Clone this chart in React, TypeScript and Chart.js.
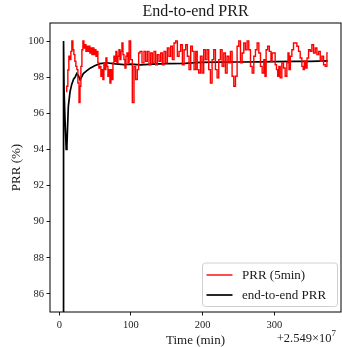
import React, { useEffect, useRef } from "react";
import { Chart, registerables } from "chart.js";

Chart.register(...registerables);

const TITLE = "End-to-end PRR";
const X_LABEL = "Time (min)";
const Y_LABEL = "PRR (%)";
const X_OFFSET_TEXT = "+2.549×10";
const X_OFFSET_EXP = "7";
const SERIES_NAMES = ["PRR (5min)", "end-to-end PRR"];

const X_TICKS = [0, 100, 200, 300];
const Y_TICKS = [86, 88, 90, 92, 94, 96, 98, 100];
const X_MIN = -13;
const X_MAX = 393;
const Y_MIN = 85;
const Y_MAX = 101;

const PRR_TIME = [
  9.5, 11.2, 12.6, 14.0, 15.4, 16.8, 18.2, 19.6, 21.0, 22.4, 23.8, 25.2, 26.6, 28.4, 29.4, 30.8,
  32.2, 33.6, 35.0, 36.4, 37.8, 39.2, 40.6, 42.0, 43.4, 44.8, 46.2, 47.6, 49.0, 50.4, 51.8, 53.1,
  54.5, 55.9, 57.3, 58.7, 60.1, 61.5, 62.9, 64.3, 65.7, 67.1, 68.5, 69.9, 71.3, 72.7, 74.1, 75.5,
  76.9, 78.3, 79.7, 81.1, 82.5, 83.9, 85.3, 86.7, 88.1, 89.5, 90.9, 92.3, 93.7, 95.1, 96.5,
  98.3, 100.7, 103.0, 105.3, 107.6, 110.0, 111.4, 113.7, 117.0, 119.3, 121.6, 124.0, 126.3, 128.6,
  130.9, 133.3, 135.6, 137.9, 140.3, 142.6, 144.9, 147.2, 149.6, 151.9, 154.2, 156.6, 158.9, 161.2,
  163.5, 165.9, 168.2, 170.5, 172.9, 175.2, 177.5, 179.8, 182.2, 184.5, 186.8, 189.2, 191.5,
  193.3, 195.7, 198.0, 200.3, 202.6, 205.0, 207.3, 209.6, 212.0, 214.3, 216.6, 219.0, 221.3, 223.6,
  225.9, 228.3, 230.6, 232.9, 235.3, 237.6, 239.9, 242.2, 244.6, 246.9, 249.2, 251.6, 253.9, 256.2,
  258.5, 260.9, 263.2, 265.5, 267.9, 270.2, 272.5, 274.8, 277.2, 279.5, 281.8, 284.2, 286.5,
  287.4, 289.7, 291.6, 294.4, 296.2, 297.6, 300.0, 302.3, 303.7, 305.6, 307.0, 309.3, 311.6, 313.9,
  316.3, 318.6, 319.5, 321.4, 323.3, 325.6, 327.9, 330.3, 332.6, 334.9, 337.2, 339.6, 341.0, 342.8,
  344.7, 346.6, 348.9, 351.2, 353.5, 355.9, 358.2, 360.5, 362.9, 365.2, 367.5, 369.8, 372.2, 374.5,
];
const PRR_VALUES = [
  97.2, 97.5, 98.4, 99.16, 98.97, 99.43, 100, 99.52, 99.25, 98.88, 98.6, 98.42, 97.68, 96.6, 97.5, 98.6,
  99.52, 100, 99.62, 99.8, 99.43, 99.71, 99.43, 99.71, 99.34, 99.62, 99.25, 99.62, 99.25, 99.52, 99.16, 99.43,
  98.79, 98.51, 98.6, 98.05, 98.42, 97.87, 98.79, 98.42, 99.06, 98.6, 98.05, 98.42, 97.68, 98.42, 97.87, 98.79,
  99.16, 98.88, 99.43, 98.79, 99.16, 99.52, 98.97, 99.43, 99.89, 99.25, 98.97, 98.51, 99.16, 99.34, 98.79,
  100, 98.97, 96.6, 98.6, 97.87, 98.42, 99.34, 99.43, 98.79, 99.43, 98.88, 99.43, 98.69, 99.34,
  98.79, 99.43, 98.69, 99.25, 98.88, 99.34, 98.69, 99.43, 98.79, 99.62, 99.16, 99.71, 98.97, 99.89,
  100, 99.16, 99.43, 99.8, 98.69, 99.52, 99.8, 99.16, 98.42, 99.71, 99.43, 98.42, 99.43,
  98.42, 98.23, 99.16, 98.23, 99.52, 98.97, 99.52, 98.42, 97.68, 98.97, 99.52, 98.42, 97.96, 98.97,
  99.52, 98.6, 99.34, 98.23, 99.16, 98.79, 99.43, 98.05, 97.5, 98.05, 99.71, 100, 98.79, 99.34,
  99.89, 99.52, 100, 99.52, 98.6, 98.23, 99.16, 99.52, 99.89, 99.34, 98.6, 98.23, 98.97,
  98.05, 99.52, 99.71, 99.43, 98.88, 99.34, 99.34, 98.69, 98.42, 98.05, 98.6, 97.96, 98.79, 98.51,
  98.05, 98.79, 99.34, 98.42, 99.16, 99.52, 99.89, 99.89, 99.71, 99.43, 99.06, 98.6, 98.42, 98.88,
  98.51, 99.06, 99.52, 99.43, 99.8, 99.34, 99.62, 99.25, 99.43, 98.88, 99.16, 98.69, 98.6, 99.34,
];

const E2E_TIME = [
  5.5, 5.9, 6.6, 8.0, 9.6, 10.6, 12.6, 15.0, 17.3, 20.0, 22.0, 24.3, 26.5, 29.0, 31.0, 33.5,
  38.0, 43.0, 50.0, 57.0, 66.0, 75.0, 90.0, 100.0, 113.0, 130.0, 150.0, 175.0, 197.0, 220.0,
  250.0, 280.0, 300.0, 330.0, 350.0, 374.5,
];
const E2E_VALUES = [
  50, 100, 97.3, 95.6, 94.0, 94.2, 96.4, 97.2, 97.6, 97.9, 98.0, 98.2, 98.1, 97.85, 98.0, 98.2,
  98.35, 98.5, 98.65, 98.75, 98.8, 98.75, 98.7, 98.72, 98.68, 98.72, 98.75, 98.77, 98.82, 98.83,
  98.84, 98.85, 98.86, 98.87, 98.88, 98.9,
];

const SERIES_COLORS = ["#ff0000", "#000000"];
const FONT = "'Liberation Serif', 'Times New Roman', serif";

const overlayPlugin = {
  id: "mplOverlay",
  afterDraw(chart: any) {
    const { ctx, chartArea } = chart;
    const { left, right, top, bottom } = chartArea;
    ctx.save();
    ctx.strokeStyle = "#000";
    ctx.lineWidth = 1;
    ctx.strokeRect(left, top, right - left, bottom - top);

    ctx.fillStyle = "#1a1a1a";
    ctx.font = `16px ${FONT}`;
    ctx.textAlign = "center";
    ctx.textBaseline = "middle";
    ctx.fillText(TITLE, (left + right) / 2, 12);

    ctx.font = `13px ${FONT}`;
    ctx.fillText(X_LABEL, (left + right) / 2, 341);

    ctx.save();
    ctx.translate(17, (top + bottom) / 2);
    ctx.rotate(-Math.PI / 2);
    ctx.fillText(Y_LABEL, 0, 0);
    ctx.restore();

    ctx.font = `9px ${FONT}`;
    const expW = ctx.measureText(X_OFFSET_EXP).width;
    const rx = 336;
    ctx.textAlign = "right";
    ctx.fillText(X_OFFSET_EXP, rx, 334);
    ctx.font = `12.5px ${FONT}`;
    ctx.fillText(X_OFFSET_TEXT, rx - expW, 338.5);

    const bx = 202.5, by = 263, bw = 135, bh = 43.5, r = 3;
    ctx.beginPath();
    ctx.moveTo(bx + r, by);
    ctx.lineTo(bx + bw - r, by);
    ctx.quadraticCurveTo(bx + bw, by, bx + bw, by + r);
    ctx.lineTo(bx + bw, by + bh - r);
    ctx.quadraticCurveTo(bx + bw, by + bh, bx + bw - r, by + bh);
    ctx.lineTo(bx + r, by + bh);
    ctx.quadraticCurveTo(bx, by + bh, bx, by + bh - r);
    ctx.lineTo(bx, by + r);
    ctx.quadraticCurveTo(bx, by, bx + r, by);
    ctx.closePath();
    ctx.fillStyle = "rgba(255,255,255,0.85)";
    ctx.fill();
    ctx.strokeStyle = "#d0d0d0";
    ctx.lineWidth = 1;
    ctx.stroke();

    const rows = [275, 295];
    ctx.font = `13px ${FONT}`;
    ctx.textAlign = "left";
    ctx.textBaseline = "middle";
    SERIES_NAMES.forEach((name, i) => {
      ctx.strokeStyle = SERIES_COLORS[i];
      ctx.lineWidth = i === 0 ? 1.4 : 1.7;
      ctx.beginPath();
      ctx.moveTo(206.5, rows[i]);
      ctx.lineTo(232.5, rows[i]);
      ctx.stroke();
      ctx.fillStyle = "#1a1a1a";
      ctx.fillText(name, 242, rows[i] + 0.5);
    });
    ctx.restore();
  },
};

export default function App() {
  const canvasRef = useRef<HTMLCanvasElement | null>(null);

  useEffect(() => {
    if (!canvasRef.current) return;
    const prrData = PRR_TIME.map((t, i) => ({ x: t, y: PRR_VALUES[i] }));
    const e2eData = E2E_TIME.map((t, i) => ({ x: t, y: E2E_VALUES[i] }));
    const chart = new Chart(canvasRef.current, {
      type: "line",
      data: {
        datasets: [
          {
            label: SERIES_NAMES[0],
            data: prrData,
            borderColor: SERIES_COLORS[0],
            borderWidth: 1.4,
            pointRadius: 0,
            stepped: "middle",
          },
          {
            label: SERIES_NAMES[1],
            data: e2eData,
            borderColor: SERIES_COLORS[1],
            borderWidth: 1.7,
            pointRadius: 0,
            tension: 0,
          },
        ],
      },
      options: {
        responsive: false,
        animation: false,
        devicePixelRatio: 1,
        layout: { padding: { top: 23, right: 1, left: 0, bottom: 0 } },
        plugins: {
          legend: { display: false },
          tooltip: { enabled: false },
          title: { display: false },
        },
        scales: {
          x: {
            type: "linear",
            min: X_MIN,
            max: X_MAX,
            afterBuildTicks: (s: any) => {
              s.ticks = X_TICKS.map((v) => ({ value: v }));
            },
            afterFit: (s: any) => {
              s.height = 35;
            },
            grid: { drawOnChartArea: false, drawTicks: true, tickLength: 3.5, color: "#000", lineWidth: 0.9 },
            border: { display: false },
            ticks: {
              color: "#1a1a1a",
              font: { family: FONT, size: 10.5 },
              padding: 3,
              maxRotation: 0,
              autoSkip: false,
            },
          },
          y: {
            type: "linear",
            min: Y_MIN,
            max: Y_MAX,
            afterBuildTicks: (s: any) => {
              s.ticks = Y_TICKS.map((v) => ({ value: v }));
            },
            afterFit: (s: any) => {
              s.width = 50;
            },
            grid: { drawOnChartArea: false, drawTicks: true, tickLength: 3.5, color: "#000", lineWidth: 0.9 },
            border: { display: false },
            ticks: {
              color: "#1a1a1a",
              font: { family: FONT, size: 10.5 },
              padding: 2.5,
              autoSkip: false,
            },
          },
        },
      },
      plugins: [overlayPlugin],
    });
    return () => chart.destroy();
  }, []);

  return (
    <div style={{ position: "absolute", left: 0, top: 0, width: 342, height: 347, background: "#fff" }}>
      <canvas ref={canvasRef} width={342} height={347} />
    </div>
  );
}
